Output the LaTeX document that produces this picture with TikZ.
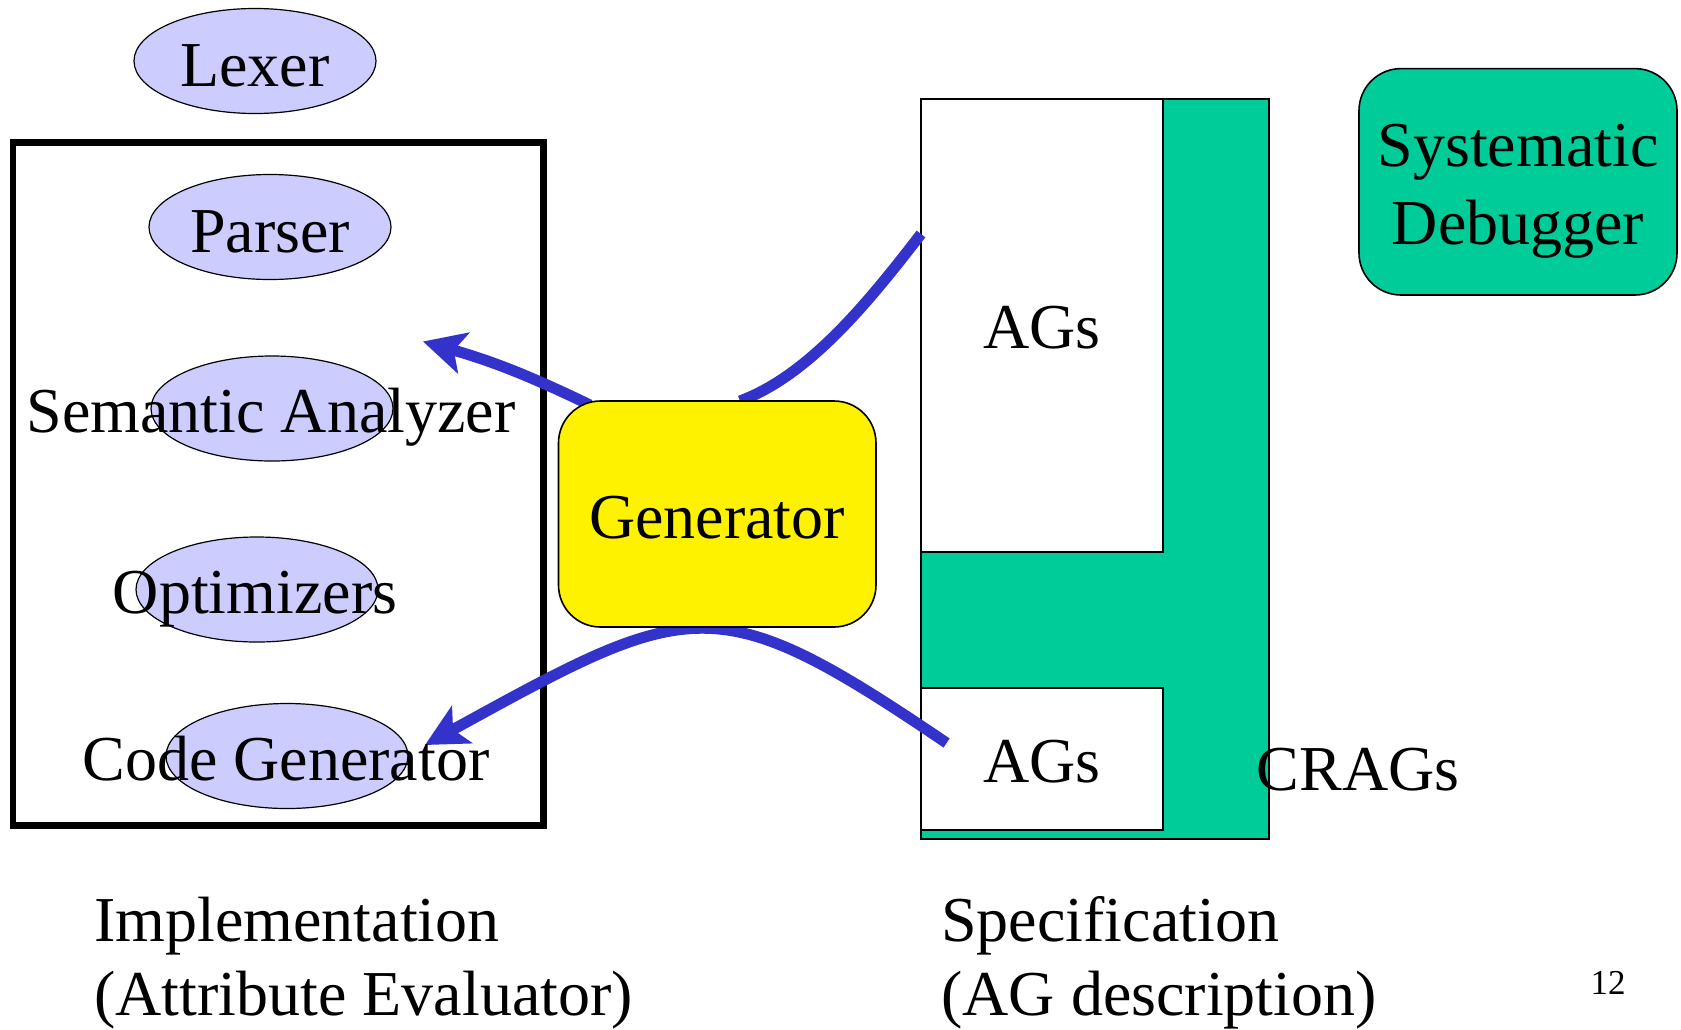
\documentclass[tikz,border=0pt]{standalone}
\usepackage{fontspec}
\setmainfont{Liberation Serif}
\usetikzlibrary{shapes.geometric,arrows.meta}
\definecolor{phasefill}{RGB}{204,204,255}
\definecolor{cragsgreen}{RGB}{0,204,153}
\definecolor{flowblue}{RGB}{51,51,204}
\begin{document}
\begin{tikzpicture}[x=0.5pt,y=-0.5pt,
  phase/.style={ellipse, draw=black, line width=0.6pt, fill=phasefill,
    minimum width=121pt, minimum height=52.5pt, inner sep=0pt},
  lbl/.style={anchor=base, inner sep=0pt, font=\fontsize{32pt}{38.5pt}\selectfont},
  lblleft/.style={lbl, anchor=base west},
  specbox/.style={rectangle, draw=black, line width=1pt, inner sep=0pt},
  roundbox/.style={rectangle, rounded corners=21pt, draw=black, line width=0.8pt, inner sep=0pt},
  flow/.style={draw=flowblue, line width=5.5pt},
  flowarrow/.style={flow, -{Stealth[length=21pt,width=21pt,inset=5pt]}},
]
\useasboundingbox (0,0) rectangle (1681,1029);

% compiler phases
\node[phase] (lexer) at (255,61) {};
\node[lbl] at (255,86) {Lexer};
\draw[line width=3.3pt] (13,142.5) rectangle (543.5,825.5);
\node[phase] (parser) at (270,227) {};
\node[phase] (sem) at (272,408.5) {};
\node[phase] (opt) at (257,589.5) {};
\node[phase] (cg) at (287,756) {};

% specification side
\node[specbox, fill=cragsgreen, minimum width=174pt, minimum height=370.4pt] (spec) at (1095,469) {};
\node[specbox, fill=white, minimum width=121pt, minimum height=226.7pt] (agsup) at (1042,325.3) {};
\node[specbox, fill=white, minimum width=121pt, minimum height=71pt] (agslow) at (1042,759) {};

% flows through the generator
\coordinate (semtip) at (423,341.5);
\coordinate (genA) at (590,405);
\coordinate (genB) at (740,401);
\coordinate (agin) at (921,234);
\coordinate (agout) at (946.6,743);
\coordinate (cgtip) at (425,745);
\draw[flowarrow] (genA) to[bend right=5] (semtip);
\draw[flow] (genB) .. controls (810,375) and (870,300) .. (agin);
\draw[flowarrow] (agout) .. controls (715,586) and (692,598) .. (cgtip);

\node[roundbox, fill=yellow, minimum width=158.75pt, minimum height=113pt] (gen) at (717.25,514) {};
\node[roundbox, fill=cragsgreen, minimum width=159pt, minimum height=113.2pt] (dbg) at (1518,181.8) {};

% labels
\node[lbl] at (270,252) {Parser};
\node[lbl] at (271,432) {Semantic Analyzer};
\node[lbl] at (255,613) {Optimizers};
\node[lbl] at (286,780) {Code Generator};
\node[lbl] at (717,538) {Generator};
\node[lbl] at (1042,348) {AGs};
\node[lbl] at (1042,782.6) {AGs};
\node[lbl] at (1358,790) {CRAGs};
\node[lbl] at (1518,166) {Systematic};
\node[lbl] at (1518,244) {Debugger};
\node[lblleft] at (94,941) {Implementation};
\node[lblleft] at (94,1015) {(Attribute Evaluator)};
\node[lblleft] at (941,941) {Specification};
\node[lblleft] at (941,1015) {(AG description)};
\node[anchor=base, inner sep=0pt, font=\fontsize{17.5pt}{21pt}\selectfont] at (1608,994) {12};
\end{tikzpicture}
\end{document}
